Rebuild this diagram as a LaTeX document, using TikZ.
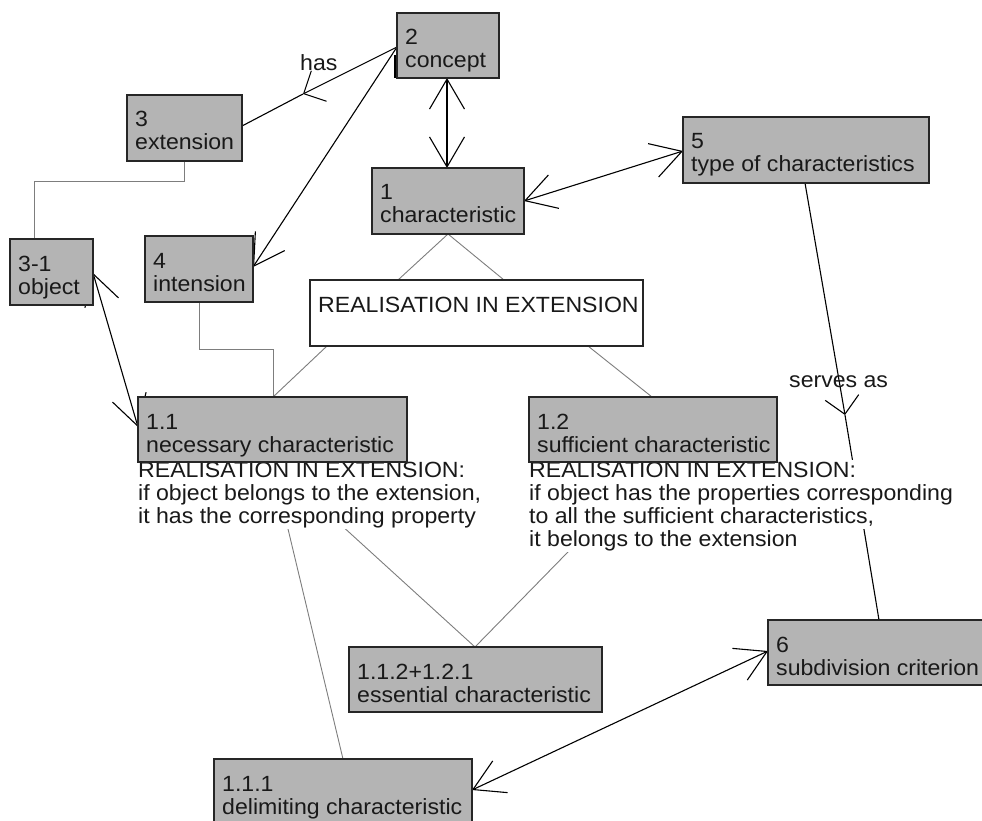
\documentclass[tikz,border=0pt]{standalone}
\usepackage{fontspec}
\setmainfont{Liberation Sans}[FakeStretch=1.05]
\usetikzlibrary{arrows.meta,calc,backgrounds}

\definecolor{boxgray}{RGB}{180,180,180}
\definecolor{treegray}{RGB}{125,125,125}
\definecolor{ink}{RGB}{25,25,25}

% two stacked lines, the first baseline being the node's baseline
\newcommand\twoline[2]{\vtop{\baselineskip=23pt\hbox{#1}\hbox{#2}}}

\tikzset{
  bigbarb/.tip={Straight Barb[length=30pt,width=35pt]},
  smallbarb/.tip={Straight Barb[length=17pt,width=34pt]},
  cbox/.style={rectangle, draw=black!85, line width=1.3pt, fill=boxgray,
               anchor=north west, inner sep=0pt, outer sep=0pt},
  wbox/.style={cbox, fill=white},
  ctext/.style={anchor=base west, inner sep=0pt, text=ink,
                font=\fontsize{22}{23}\selectfont},
  capline/.style={anchor=base west, fill=white, inner xsep=2pt, inner ysep=0pt,
                  text height=17pt, text depth=6pt, text=ink,
                  font=\fontsize{22}{23}\selectfont},
  link/.style={draw=black, line width=1.1pt},
  tree/.style={draw=treegray, line width=0.9pt},
}

\begin{document}
\begin{tikzpicture}[x=1pt,y=-1pt]
\useasboundingbox (0,0) rectangle (982,821);

% captions under the two realisation boxes (white, so links pass behind them)
\node[capline] (cap11a) at (136,477) {REALISATION IN EXTENSION:};
\node[capline] (cap11b) at (136,500) {if object belongs to the extension,};
\node[capline] (cap11c) at (136,523) {it has the corresponding property};
\node[capline] (cap12a) at (527,477) {REALISATION IN EXTENSION:};
\node[capline] (cap12b) at (527,500) {if object has the properties corresponding};
\node[capline] (cap12c) at (527,523) {to all the sufficient characteristics,};
\node[capline] (cap12d) at (527,546) {it belongs to the extension};

% concept boxes
\node[cbox, minimum width=102pt, minimum height=65pt] (c2)   at (397,13)  {};
\node[cbox, minimum width=115pt, minimum height=66pt] (c3)   at (127,95)  {};
\node[cbox, minimum width=152pt, minimum height=66pt] (c1)   at (372,168) {};
\node[cbox, minimum width=246pt, minimum height=66pt] (c5)   at (683,117) {};
\node[cbox, minimum width=83pt,  minimum height=66pt] (c31)  at (10,239)  {};
\node[cbox, minimum width=108pt, minimum height=66pt] (c4)   at (145,236) {};
\node[wbox, minimum width=333pt, minimum height=66pt] (real) at (310,280) {};
\node[cbox, minimum width=269pt, minimum height=65pt] (c11)  at (138,397) {};
\node[cbox, minimum width=248pt, minimum height=65pt] (c12)  at (529,397) {};
\node[cbox, minimum width=253pt, minimum height=65pt] (ess)  at (349,647) {};
\node[cbox, minimum width=240pt, minimum height=65pt] (c6)   at (768,620) {};
\node[cbox, minimum width=258pt, minimum height=70pt] (c111) at (214,759) {};

% box texts
\node[ctext] (c2t)   at ($(c2.north west)+(8,32)$)   {\twoline{2}{concept}};
\node[ctext] (c3t)   at ($(c3.north west)+(8,32)$)   {\twoline{3}{extension}};
\node[ctext] (c1t)   at ($(c1.north west)+(8,32)$)   {\twoline{1}{characteristic}};
\node[ctext] (c5t)   at ($(c5.north west)+(8,32)$)   {\twoline{5}{type of characteristics}};
\node[ctext] (c31t)  at ($(c31.north west)+(8,32)$)  {\twoline{3-1}{object}};
\node[ctext] (c4t)   at ($(c4.north west)+(8,32)$)   {\twoline{4}{intension}};
\node[ctext] (realt) at ($(real.north west)+(8,32)$) {REALISATION IN EXTENSION};
\node[ctext] (c11t)  at ($(c11.north west)+(8,32)$)  {\twoline{1.1}{necessary characteristic}};
\node[ctext] (c12t)  at ($(c12.north west)+(8,32)$)  {\twoline{1.2}{sufficient characteristic}};
\node[ctext] (esst)  at ($(ess.north west)+(8,32)$)  {\twoline{1.1.2+1.2.1}{essential characteristic}};
\node[ctext] (c6t)   at ($(c6.north west)+(8,32)$)   {\twoline{6}{subdivision criterion}};
\node[ctext] (c111t) at ($(c111.north west)+(8,32)$) {\twoline{1.1.1}{delimiting characteristic}};

% link labels
\node[ctext] (haslbl)   at (300,71)  {has};
\node[ctext] (serveslbl) at (789,387) {serves as};

\coordinate (hasmid)  at (303,94);
\coordinate (servmid) at (845,415);

\begin{pgfonlayer}{background}
  % relations
  \draw[link,-smallbarb] ($(c2.north west)+(0,34)$) -- (hasmid);
  \draw[link] (hasmid) -- ($(c3.north east)+(0,31)$);
  \draw[link,-bigbarb] ($(c2.north west)+(0,34)$) -- ($(c4.north east)+(0,31)$);
  \draw[link,line width=1.6pt] ($(c2.north west)+(-2,42)$) -- ($(c2.north west)+(-2,65)$);
  \draw[link,bigbarb-bigbarb] ($(c2.south west)+(50,0)$) -- ($(c1.north west)+(75,0)$);
  \draw[link,bigbarb-bigbarb] ($(c1.north east)+(0,33)$) -- ($(c5.north west)+(0,34)$);
  \draw[link,-smallbarb] ($(c5.south west)+(122,0)$) -- (servmid);
  \draw[link] (servmid) -- ($(c6.north west)+(111,0)$);
  \draw[link,bigbarb-bigbarb] ($(c31.north east)+(0,34)$) -- ($(c11.north west)+(0,30)$);
  \draw[link,bigbarb-bigbarb] ($(c6.north west)+(0,31)$) -- ($(c111.north east)+(0,31)$);

  % subdivision tree
  \draw[tree] ($(c3.south west)+(57,0)$) -- ++(0,20) -| ($(c31.north west)+(24,0)$);
  \draw[tree] ($(c4.south west)+(54,0)$) -- ++(0,47) -| ($(c11.north west)+(135,0)$);
  \draw[tree] ($(c1.south west)+(76,0)$) -- ($(real.north west)+(88,0)$);
  \draw[tree] ($(c1.south west)+(76,0)$) -- ($(real.north west)+(194,0)$);
  \draw[tree] ($(real.south west)+(17,0)$) -- ($(c11.north west)+(135,0)$);
  \draw[tree] ($(real.south west)+(278,0)$) -- ($(c12.north west)+(123,0)$);
  \draw[tree] ($(c11.south west)+(134,0)$) -- ($(c111.north west)+(129,0)$);
  \draw[tree] ($(c11.south west)+(134,0)$) -- ($(ess.north west)+(126,0)$);
  \draw[tree] ($(c12.south west)+(127,0)$) -- ($(ess.north west)+(126,0)$);
\end{pgfonlayer}
\end{tikzpicture}
\end{document}
